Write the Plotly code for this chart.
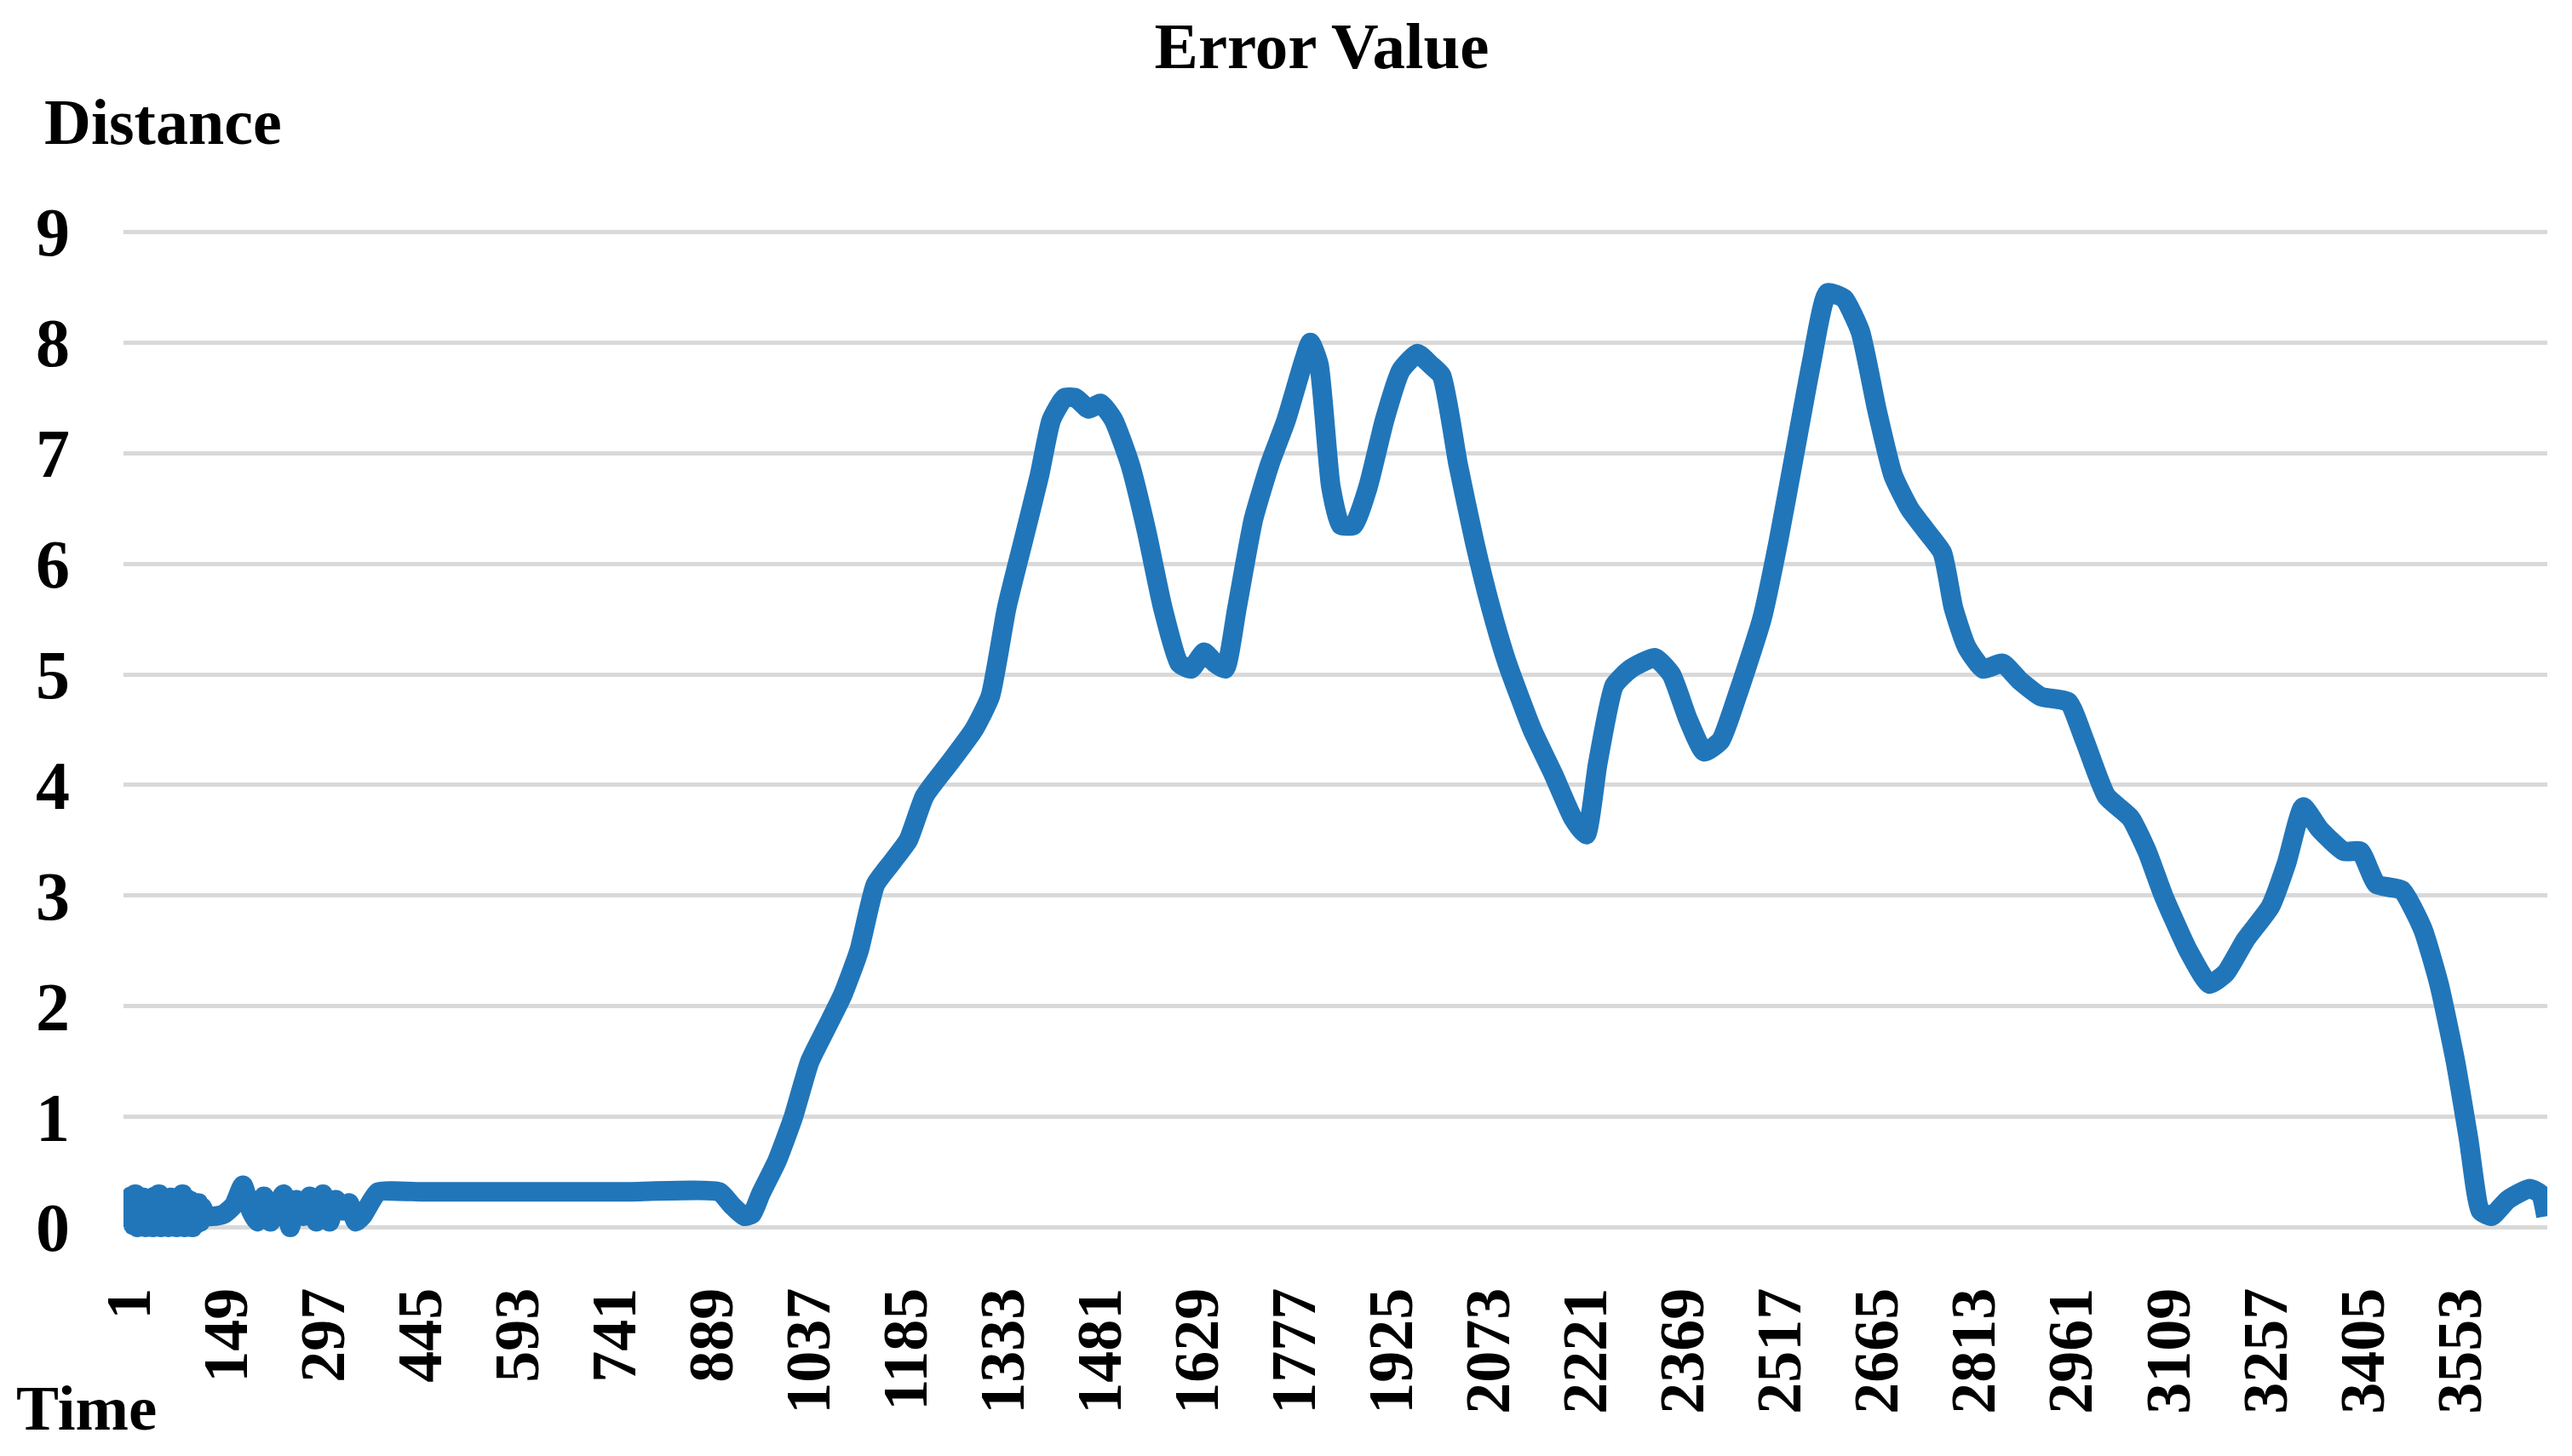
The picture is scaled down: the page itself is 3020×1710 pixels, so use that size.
import plotly.graph_objects as go

# ---- data ----
time_idx = [1, 4, 7, 10, 13, 16, 19, 22, 25, 28, 31, 34, 37, 40, 43, 46, 49, 52, 55, 58,
            61, 64, 67, 70, 73, 76, 79, 82, 85, 88, 91, 94, 97, 100, 103, 106, 109, 112,
            118, 130, 145, 160, 174, 186, 196, 206, 216, 226, 236, 246, 256,
            266, 276, 286, 296, 306, 316, 326, 336, 346, 356, 366, 380, 450, 600, 750,
            900, 919, 938, 950, 963, 988, 1013, 1038, 1063, 1088, 1113, 1138, 1163, 1188,
            1213, 1251, 1288, 1313, 1338, 1363, 1388, 1406, 1426, 1443, 1463, 1481, 1501,
            1526, 1551, 1576, 1601, 1619, 1639, 1656, 1671, 1689, 1714, 1739, 1764, 1789,
            1801, 1814, 1832, 1847, 1867, 1889, 1914, 1939, 1964, 1984, 2001, 2026, 2051,
            2076, 2101, 2139, 2171, 2201, 2221, 2239, 2264, 2289, 2326, 2351, 2376, 2401,
            2426, 2451, 2489, 2514, 2539, 2564, 2589, 2614, 2639, 2664, 2689, 2714, 2739,
            2764, 2781, 2801, 2826, 2856, 2881, 2914, 2956, 2981, 3014, 3051, 3076, 3101,
            3139, 3171, 3196, 3226, 3264, 3289, 3314, 3339, 3376, 3401, 3426, 3464, 3496,
            3521, 3546, 3566, 3584, 3601, 3626, 3659, 3676, 3684]

distance = [0.0, 0.28, 0.02, 0.3, 0.0, 0.25, 0.02, 0.27, 0.0, 0.24, 0.02, 0.26, 0.0, 0.28,
            0.02, 0.3, 0.0, 0.26, 0.02, 0.25, 0.0, 0.27, 0.02, 0.24, 0.0, 0.26, 0.02, 0.3,
            0.0, 0.26, 0.02, 0.24, 0.0, 0.22, 0.03, 0.22, 0.05, 0.18,
            0.1, 0.1, 0.12, 0.2, 0.38, 0.15,
            0.05, 0.28, 0.05, 0.2, 0.3, 0.0, 0.25, 0.1, 0.28, 0.05, 0.3, 0.05, 0.25, 0.15,
            0.22, 0.05, 0.1, 0.2, 0.32, 0.32, 0.32, 0.32,
            0.32, 0.2, 0.1, 0.12, 0.3, 0.6, 1.0, 1.5, 1.8, 2.1, 2.5, 3.1, 3.3, 3.5,
            3.9, 4.2, 4.5, 4.8, 5.6, 6.2, 6.8, 7.3, 7.5, 7.5, 7.4, 7.45, 7.3,
            6.9, 6.3, 5.6, 5.1, 5.05, 5.2, 5.1, 5.05, 5.6, 6.4, 6.9, 7.3, 7.8,
            8.0, 7.8, 6.7, 6.35, 6.35, 6.7, 7.3, 7.75, 7.9, 7.8, 7.7, 6.9, 6.2,
            5.6, 5.1, 4.5, 4.1, 3.7, 3.55, 4.2, 4.9, 5.05, 5.15, 5.0, 4.6, 4.3,
            4.4, 4.8, 5.5, 6.2, 7.0, 7.8, 8.45, 8.4, 8.1, 7.4, 6.8, 6.5, 6.3,
            6.1, 5.6, 5.25, 5.05, 5.1, 4.95, 4.8, 4.75, 4.4, 3.9, 3.7, 3.4, 3.0,
            2.5, 2.2, 2.3, 2.6, 2.9, 3.3, 3.8, 3.6, 3.4, 3.4, 3.1, 3.05, 2.7,
            2.2, 1.5, 0.8, 0.15, 0.1, 0.25, 0.35, 0.3, 0.1]

x_ticks = [1, 149, 297, 445, 593, 741, 889, 1037, 1185, 1333, 1481, 1629, 1777, 1925,
           2073, 2221, 2369, 2517, 2665, 2813, 2961, 3109, 3257, 3405, 3553]
x_tick_labels = [str(v) for v in x_ticks]
y_ticks = [0, 1, 2, 3, 4, 5, 6, 7, 8, 9]

FONT = "Liberation Serif, Times New Roman, serif"

fig = go.Figure()
fig.add_trace(go.Scatter(
    x=time_idx, y=distance, mode="lines",
    line=dict(color="#2176BA", width=23, shape="spline", smoothing=0.5),
    showlegend=False, hoverinfo="skip",
))

# The page body has an 8px default margin: lay out in page pixels, then shift.
OFF = 8
W, H = 3020 - OFF, 1710 - OFF
UNIT = 129.9                      # pixels per distance unit
Y0, Y9 = 1441 - OFF, 272 - OFF    # rows of 0 and 9 inside the figure
YMIN, YMAX = -0.12, 9.05
T = Y9 - (YMAX - 9) * UNIT
B = H - (Y0 + (0 - YMIN) * UNIT)
L = 145 - OFF
R = 3020 - 2991
pw, ph = W - L - R, H - T - B


def py(page_pix):
    return (H - B - (page_pix - OFF)) / ph


def px(page_pix):
    return (page_pix - OFF - L) / pw


fig.update_layout(
    width=W, height=H,
    margin=dict(l=L, r=R, t=T, b=B, pad=0),
    paper_bgcolor="white", plot_bgcolor="white",
    font=dict(family=FONT, color="black"),
    title=dict(text="Error Value", x=(1552 - OFF) / W, xref="container", xanchor="center",
               y=1 - (53 - OFF) / H, yref="container", yanchor="middle",
               font=dict(family=FONT, size=77, weight="bold", color="black")),
    xaxis=dict(
        range=[-8, 3686], tickmode="array", tickvals=x_ticks, ticktext=x_tick_labels,
        tickangle=-90, showgrid=False, zeroline=False, showline=False, ticks="",
        tickfont=dict(family=FONT, size=74, weight="bold", color="black"),
        ticklabelstandoff=40,
    ),
    yaxis=dict(
        range=[YMIN, YMAX], tickmode="array", tickvals=y_ticks,
        showgrid=True, gridcolor="#D9D9D9", gridwidth=5, zeroline=False, showline=False,
        ticks="", tickfont=dict(family=FONT, size=80, weight="bold", color="black"),
        ticklabelstandoff=62,
    ),
    annotations=[
        dict(text="Distance", xref="paper", yref="paper",
             x=px(50), y=py(142), xanchor="left", yanchor="middle",
             showarrow=False, font=dict(family=FONT, size=76, weight="bold", color="black")),
        dict(text="Time", xref="paper", yref="paper",
             x=px(17), y=py(1653), xanchor="left", yanchor="middle",
             showarrow=False, font=dict(family=FONT, size=75, weight="bold", color="black")),
    ],
)

fig.write_html("out.html")
